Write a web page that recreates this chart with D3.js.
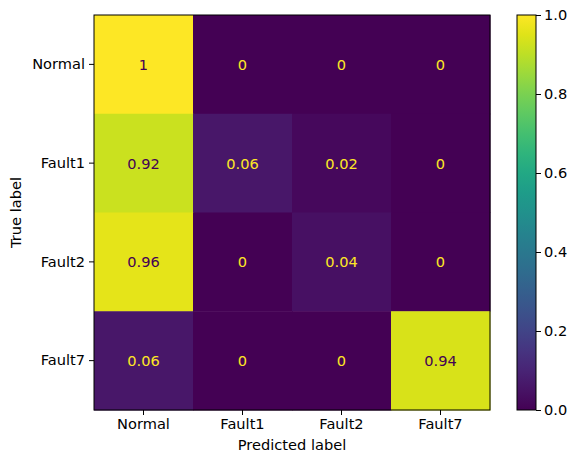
<!DOCTYPE html>
<html>
<head>
<meta charset="utf-8">
<script src="https://cdn.jsdelivr.net/npm/d3@7"></script>
<style>
  body { margin: 0; background: #fff; }
  text { font-family: "DejaVu Sans", sans-serif; }
</style>
</head>
<body>
<div id="viz_container"></div>
<script>
// chart data
const trueLabels = ["Normal", "Fault1", "Fault2", "Fault7"];
const predLabels = ["Normal", "Fault1", "Fault2", "Fault7"];
const rowNormal = [1, 0, 0, 0];
const rowFault1 = [0.92, 0.06, 0.02, 0];
const rowFault2 = [0.96, 0, 0.04, 0];
const rowFault7 = [0.06, 0, 0, 0.94];
const colorbarTicks = [0.0, 0.2, 0.4, 0.6, 0.8, 1.0];

const rows = [rowNormal, rowFault1, rowFault2, rowFault7];

const width = 570, height = 455;
const fontSize = "14.6px";
const svg = d3.select("#viz_container")
  .append("svg")
  .attr("width", width)
  .attr("height", height);

// plot area
const plotLeft = 94, plotTop = 15, plotRight = 490, plotBottom = 410;

const x = d3.scaleBand().domain(predLabels).range([plotLeft, plotRight]);
const y = d3.scaleBand().domain(trueLabels).range([plotTop, plotBottom]);
const color = d3.scaleSequential(d3.interpolateViridis).domain([0, 1]);

const cells = [];
rows.forEach((r, i) => r.forEach((v, j) => cells.push({t: trueLabels[i], p: predLabels[j], v})));

svg.append("g")
  .selectAll("rect")
  .data(cells)
  .join("rect")
  .attr("x", d => x(d.p))
  .attr("y", d => y(d.t))
  .attr("width", x.bandwidth() + 0.5)
  .attr("height", y.bandwidth() + 0.5)
  .attr("fill", d => color(d.v));

// cell labels
svg.append("g")
  .selectAll("text")
  .data(cells)
  .join("text")
  .attr("x", d => x(d.p) + x.bandwidth() / 2)
  .attr("y", d => y(d.t) + y.bandwidth() / 2)
  .attr("text-anchor", "middle")
  .attr("dominant-baseline", "central")
  .style("font-size", fontSize)
  .style("fill", d => d.v < 0.5 ? color(1) : color(0))
  .text(d => d3.format("")(d.v));

// axes
const xAxis = svg.append("g")
  .attr("transform", `translate(0,${plotBottom})`)
  .call(d3.axisBottom(x).tickSize(5).tickPadding(4));
const yAxis = svg.append("g")
  .attr("transform", `translate(${plotLeft},0)`)
  .call(d3.axisLeft(y).tickSize(5).tickPadding(4));
[xAxis, yAxis].forEach(a => {
  a.select(".domain").remove();
  a.selectAll("text").style("font-size", fontSize).style("fill", "#000").style("font-family", "DejaVu Sans");
  a.selectAll("line").attr("stroke", "#000").attr("stroke-width", 1);
});

svg.append("rect")
  .attr("x", plotLeft).attr("y", plotTop)
  .attr("width", plotRight - plotLeft).attr("height", plotBottom - plotTop)
  .attr("fill", "none").attr("stroke", "#000").attr("stroke-width", 1);

// axis titles
svg.append("text")
  .attr("x", (plotLeft + plotRight) / 2)
  .attr("y", 450)
  .attr("text-anchor", "middle")
  .style("font-size", fontSize)
  .text("Predicted label");
svg.append("text")
  .attr("transform", `translate(21,${(plotTop + plotBottom) / 2}) rotate(-90)`)
  .attr("text-anchor", "middle")
  .style("font-size", fontSize)
  .text("True label");

// colorbar
const cbLeft = 517, cbRight = 536;
const defs = svg.append("defs");
const grad = defs.append("linearGradient")
  .attr("id", "viridis")
  .attr("x1", "0").attr("y1", "1").attr("x2", "0").attr("y2", "0");
d3.range(0, 1.0001, 0.05).forEach(t => {
  grad.append("stop").attr("offset", t).attr("stop-color", color(t));
});
svg.append("rect")
  .attr("x", cbLeft).attr("y", plotTop)
  .attr("width", cbRight - cbLeft).attr("height", plotBottom - plotTop)
  .attr("fill", "url(#viridis)")
  .attr("stroke", "#000").attr("stroke-width", 1);

const cbScale = d3.scaleLinear().domain([0, 1]).range([plotBottom, plotTop]);
const cbAxis = svg.append("g")
  .attr("transform", `translate(${cbRight},0)`)
  .call(d3.axisRight(cbScale).tickValues(colorbarTicks).tickFormat(d3.format(".1f")).tickSize(5).tickPadding(3));
cbAxis.select(".domain").remove();
cbAxis.selectAll("text").style("font-size", fontSize).style("fill", "#000").style("font-family", "DejaVu Sans");
cbAxis.selectAll("line").attr("stroke", "#000");
</script>
</body>
</html>
